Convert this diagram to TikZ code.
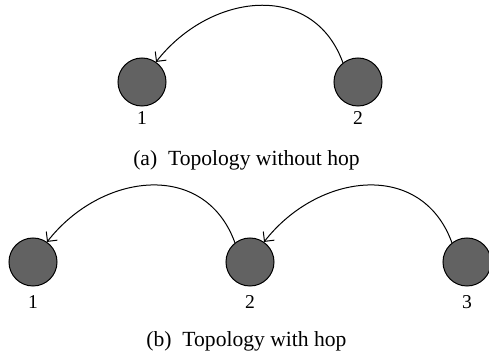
\documentclass[tikz,border=0pt]{standalone}
\usepackage{fontspec}
\setmainfont{Liberation Serif}
\usetikzlibrary{positioning,arrows.meta}

\definecolor{hostgray}{RGB}{98,98,98}

\begin{document}
\begin{tikzpicture}[x=0.5pt,y=0.5pt,>={Straight Barb[length=3.5pt,width=7pt]},
	host/.style={circle,draw=black,fill=hostgray,line width=0.5pt,minimum size=24pt,inner sep=0pt},
	lbl/.style={inner sep=0pt,font=\fontsize{9.8}{11}\selectfont},
	capt/.style={anchor=base,inner sep=0pt,font=\fontsize{10.8}{12}\selectfont},
	hop/.style={->,line width=0.5pt,out=110,in=52,looseness=1.2}]
	\useasboundingbox (0,0) rectangle (489,354);
	% (a) without hop
	\node[host] (a1) at (142,272) {};
	\node[host] (a2) at (358,272) {};
	\node[lbl,below=2.2pt of a1] (la1) {1};
	\node[lbl,below=2.2pt of a2] (la2) {2};
	\draw[hop] (a2.128) to (a1.55);
	\node[capt] (capa) at (246.5,188) {(a)\enspace Topology without hop};
	% (b) with hop
	\node[host] (b1) at (33,92) {};
	\node[host,right=84pt of b1] (b2) {};
	\node[host,right=84pt of b2] (b3) {};
	\node[lbl,below=4.2pt of b1] (lb1) {1};
	\node[lbl,below=4.2pt of b2] (lb2) {2};
	\node[lbl,below=4.2pt of b3] (lb3) {3};
	\draw[hop] (b2.128) to (b1.55);
	\draw[hop] (b3.128) to (b2.55);
	\node[capt] (capb) at (246.5,7) {(b)\enspace Topology with hop};
\end{tikzpicture}
\end{document}
